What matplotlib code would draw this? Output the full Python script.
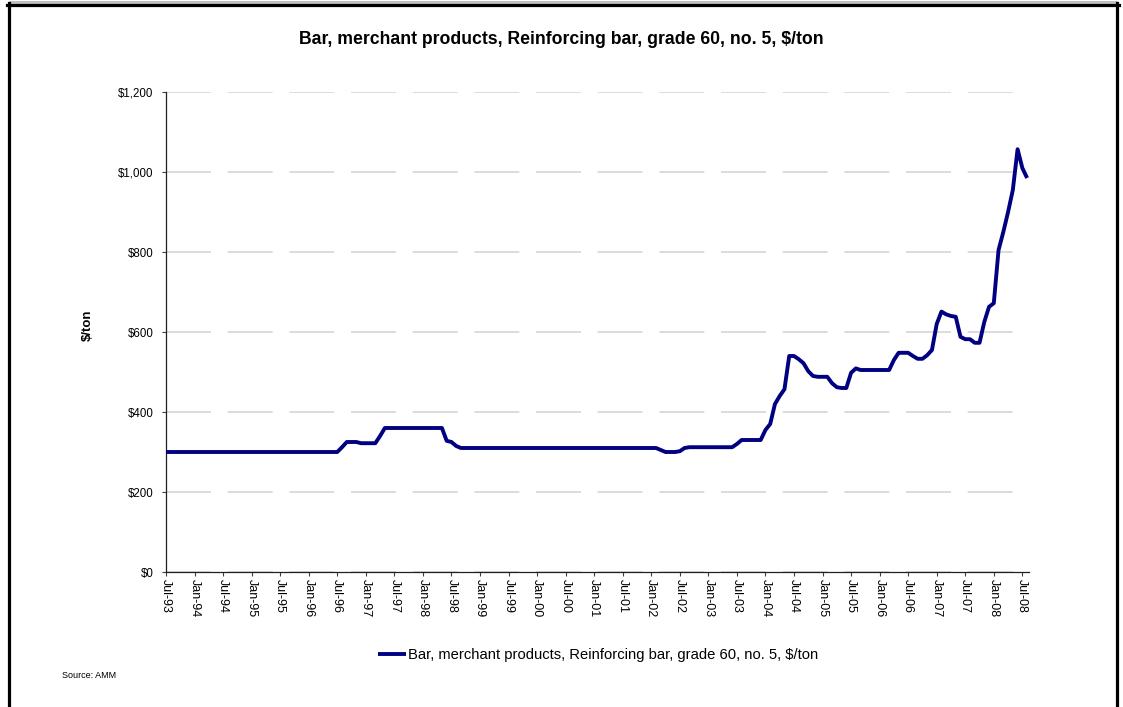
import matplotlib
matplotlib.use("Agg")
import matplotlib.pyplot as plt
from matplotlib.lines import Line2D
import numpy as np

plt.rcParams['font.family'] = ['Liberation Sans', 'DejaVu Sans']

# ---- data (monthly, Jul-93 .. Sep-08) ----
start_year, start_month = 1993, 7
segment_values = [
    [300] * 37,                                   # Jul-93 .. Jul-96
    [312, 325, 325, 325, 322, 322, 322, 322],     # Aug-96 .. Mar-97
    [340, 360, 360, 360, 360, 360, 360, 360, 360, 360, 360, 360, 360, 360],  # Apr-97 .. May-98
    [328, 325, 315, 310],                          # Jun-98 .. Sep-98
    [310] * 40,                                    # Oct-98 .. Jan-02
    [310, 305, 300, 300, 300, 302, 310],           # Feb-02 .. Aug-02
    [312] * 10,                                    # Sep-02 .. Jun-03
    [320, 330, 330, 330, 330, 330],                # Jul-03 .. Dec-03
    [355, 370, 420, 440, 457, 540, 540, 532, 522, 502, 490, 488, 488, 488],
    [472, 462, 460, 460, 498, 509, 505, 505, 505, 505, 505, 505, 505],
    [530, 548, 548, 548, 540, 533, 533, 542, 555, 620, 651, 644, 640, 638],
    [588, 582, 582, 573, 573, 625, 663, 672, 805, 850, 900, 955, 1057, 1010, 985],
]
values = [v for seg in segment_values for v in seg]

month_names = ['Jan', 'Feb', 'Mar', 'Apr', 'May', 'Jun',
               'Jul', 'Aug', 'Sep', 'Oct', 'Nov', 'Dec']
labels = []
for i in range(len(values)):
    m = (start_month - 1 + i) % 12
    y = start_year + (start_month - 1 + i) // 12
    labels.append(f"{month_names[m]}-{y % 100:02d}")

y_ticks = [0, 200, 400, 600, 800, 1000, 1200]
series_name = "Bar, merchant products, Reinforcing bar, grade 60, no. 5, $/ton"
title = "Bar, merchant products, Reinforcing bar, grade 60, no. 5, $/ton"

# ---- figure ----
W, H = 1123, 707
fig = plt.figure(figsize=(W / 100, H / 100), dpi=100)
fig.patch.set_facecolor('white')

ax = fig.add_axes([166 / W, 1 - 572 / H, (1029 - 166) / W, (572 - 92) / H])
x = np.arange(len(values))
line, = ax.plot(x, values, color='#000080', linewidth=2.8, solid_joinstyle='round',
                solid_capstyle='butt', label=series_name, zorder=3, clip_on=False)

ax.set_xlim(0, len(values) - 0.6)
ax.set_ylim(0, 1200)
ax.set_yticks(y_ticks)
ax.set_yticklabels([f"${v:,.0f}" for v in y_ticks], fontsize=8.3)
tick_pos = list(range(0, len(values), 6))
ax.set_xticks(tick_pos)
ax.set_xticklabels([labels[i] for i in tick_pos], rotation=-90, fontsize=9,
                   va='top', ha='center')
ax.tick_params(axis='both', direction='out', length=3, width=0.8, color='#404040')
ax.tick_params(axis='y', pad=6)
ax.tick_params(axis='x', pad=2)

for s in ['top', 'right']:
    ax.spines[s].set_visible(False)
for s in ['left', 'bottom']:
    ax.spines[s].set_color('#202020')
    ax.spines[s].set_linewidth(0.9)

ax.yaxis.grid(True, color='#d6d6d6', linewidth=1.2, linestyle=(0, (27, 10)))
ax.set_axisbelow(True)

fig.text(88 / W, 1 - 325 / H, "$/ton", rotation=90, ha='center', va='center',
         fontsize=9.5, fontweight='bold')

fig.text(561 / W, 1 - 40 / H, title, ha='center', va='center',
         fontsize=12.7, fontweight='bold')

leg = fig.legend(handles=[line], loc='center', bbox_to_anchor=(598 / W, 1 - 655 / H),
                 frameon=False, fontsize=10.6, handlelength=1.9, handletextpad=0.15)

fig.text(62 / W, 1 - 675 / H, "Source: AMM", ha='left', va='center', fontsize=6.5)

# frame
fig.add_artist(Line2D([10 / W, 1116 / W], [1 - 1.5 / H, 1 - 1.5 / H],
                      color='#c0c0c0', linewidth=2.2, transform=fig.transFigure))
fig.add_artist(Line2D([7 / W, 1119 / W], [1 - 4.5 / H, 1 - 4.5 / H],
                      color='black', linewidth=2.3, transform=fig.transFigure))
fig.add_artist(Line2D([8.5 / W, 8.5 / W], [0, 1 - 3 / H],
                      color='black', linewidth=2.3, transform=fig.transFigure))
fig.add_artist(Line2D([1117 / W, 1117 / W], [0, 1 - 3 / H],
                      color='black', linewidth=2.3, transform=fig.transFigure))

fig.savefig("out.png", dpi=100)
